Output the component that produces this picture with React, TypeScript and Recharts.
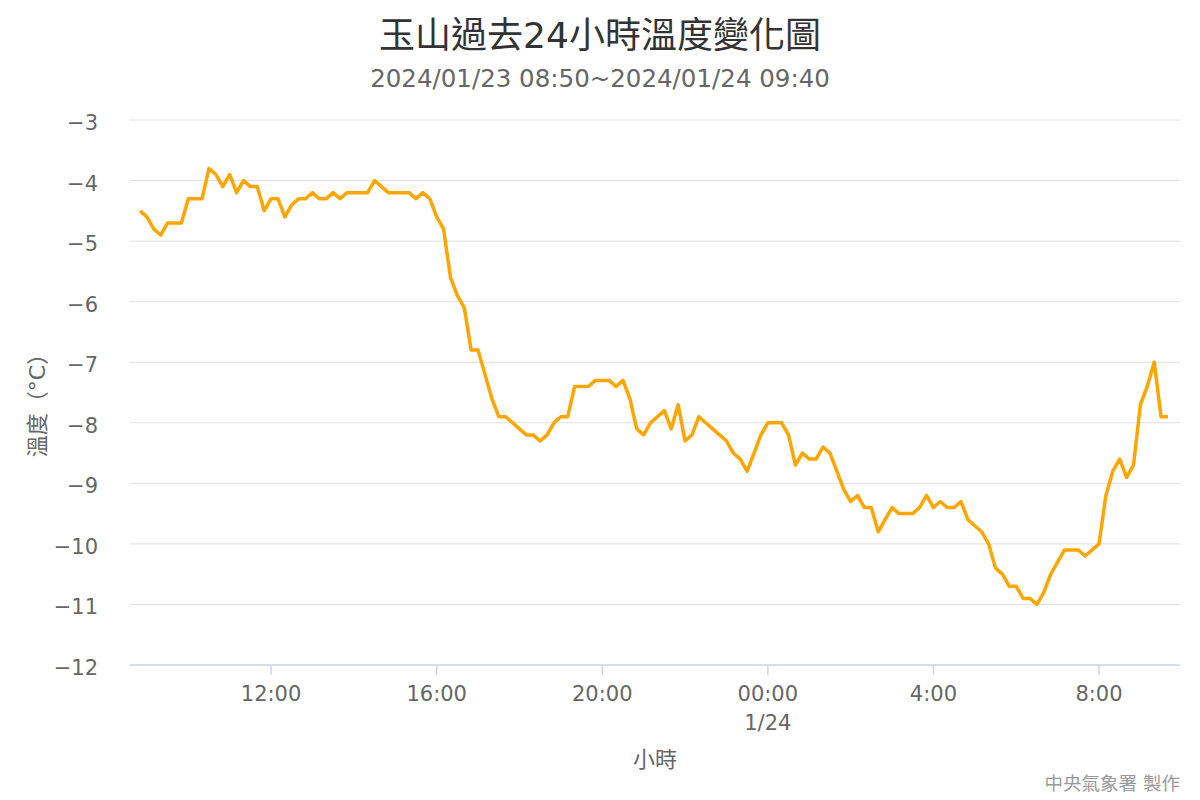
import React from "react";
import { LineChart, Line, XAxis, YAxis, CartesianGrid } from "recharts";

// 玉山 10-minute readings, 2024/01/23 08:50 → 2024/01/24 09:40
const START_MINUTE = 8 * 60 + 50;
const STEP_MINUTES = 10;

const temps = [
  -4.5, -4.6, -4.8, -4.9, -4.7, -4.7, -4.7, -4.3, -4.3, -4.3,
  -3.8, -3.9, -4.1, -3.9, -4.2, -4.0, -4.1, -4.1, -4.5, -4.3,
  -4.3, -4.6, -4.4, -4.3, -4.3, -4.2, -4.3, -4.3, -4.2, -4.3,
  -4.2, -4.2, -4.2, -4.2, -4.0, -4.1, -4.2, -4.2, -4.2, -4.2,
  -4.3, -4.2, -4.3, -4.6, -4.8, -5.6, -5.9, -6.1, -6.8, -6.8,
  -7.2, -7.6, -7.9, -7.9, -8.0, -8.1, -8.2, -8.2, -8.3, -8.2,
  -8.0, -7.9, -7.9, -7.4, -7.4, -7.4, -7.3, -7.3, -7.3, -7.4,
  -7.3, -7.6, -8.1, -8.2, -8.0, -7.9, -7.8, -8.1, -7.7, -8.3,
  -8.2, -7.9, -8.0, -8.1, -8.2, -8.3, -8.5, -8.6, -8.8, -8.5,
  -8.2, -8.0, -8.0, -8.0, -8.2, -8.7, -8.5, -8.6, -8.6, -8.4,
  -8.5, -8.8, -9.1, -9.3, -9.2, -9.4, -9.4, -9.8, -9.6, -9.4,
  -9.5, -9.5, -9.5, -9.4, -9.2, -9.4, -9.3, -9.4, -9.4, -9.3,
  -9.6, -9.7, -9.8, -10.0, -10.4, -10.5, -10.7, -10.7, -10.9, -10.9,
  -11.0, -10.8, -10.5, -10.3, -10.1, -10.1, -10.1, -10.2, -10.1, -10.0,
  -9.2, -8.8, -8.6, -8.9, -8.7, -7.7, -7.4, -7.0, -7.9, -7.9,
];

// x ticks in minutes since 1/23 00:00
const xTicks = [720, 960, 1200, 1440, 1680, 1920];
const xTickLabels = ["12:00", "16:00", "20:00", "00:00", "4:00", "8:00"];
const xTickSubLabels = ["", "", "", "1/24", "", ""];
const yTicks = [-3, -4, -5, -6, -7, -8, -9, -10, -11, -12];

const data = temps.map((t, i) => ({
  minute: START_MINUTE + i * STEP_MINUTES,
  temp: t,
}));

const FONT = "'DejaVu Sans', 'Noto Sans CJK TC', sans-serif";
const AXIS_COLOR = "#ccd6eb";
const LABEL_COLOR = "#666666";

const XTick = (props: any) => {
  const { x, y, payload } = props;
  const idx = xTicks.indexOf(payload.value);
  return (
    <g>
      <text x={x} y={y} dy={26} textAnchor="middle" fill={LABEL_COLOR} fontSize={21} fontFamily={FONT}>
        {xTickLabels[idx]}
      </text>
      {xTickSubLabels[idx] && (
        <text x={x} y={y} dy={55} textAnchor="middle" fill={LABEL_COLOR} fontSize={21} fontFamily={FONT}>
          {xTickSubLabels[idx]}
        </text>
      )}
    </g>
  );
};

const YTick = (props: any) => {
  const { x, y, payload } = props;
  const v = payload.value as number;
  const label = v < 0 ? "\u2212" + Math.abs(v) : String(v);
  return (
    <text x={x} y={y} dy={10} textAnchor="end" fill={LABEL_COLOR} fontSize={21} fontFamily={FONT}>
      {label}
    </text>
  );
};

export default function App() {
  return (
    <div style={{ position: "absolute", left: 0, top: 0, width: 1200, height: 800, background: "#fff" }}>
      <LineChart
        width={1200}
        height={800}
        data={data}
        margin={{ top: 120, right: 20, bottom: 105, left: 0 }}
      >
        <CartesianGrid vertical={false} stroke="#e0e0e0" />
        <XAxis
          dataKey="minute"
          type="number"
          domain={[515.5, 2037.4]}
          ticks={xTicks}
          allowDataOverflow
          height={30}
          tickSize={10}
          tickMargin={0}
          axisLine={{ stroke: AXIS_COLOR, strokeWidth: 1.5 }}
          tickLine={{ stroke: AXIS_COLOR, strokeWidth: 1.5 }}
          tick={<XTick />}
        />
        <YAxis
          type="number"
          domain={[-12, -3]}
          ticks={yTicks}
          width={130}
          axisLine={false}
          tickLine={false}
          tickSize={6}
          tickMargin={26}
          tick={<YTick />}
        />
        <Line
          dataKey="temp"
          type="linear"
          stroke="#ffa500"
          strokeWidth={3.5}
          strokeLinejoin="round"
          dot={false}
          isAnimationActive={false}
        />
      </LineChart>
      <svg
        width={1200}
        height={800}
        style={{ position: "absolute", left: 0, top: 0, pointerEvents: "none" }}
        fontFamily={FONT}
      >
        <text x={600} y={48} textAnchor="middle" fontSize={36} fill="#333333">
          玉山過去24小時溫度變化圖
        </text>
        <text x={600} y={87} textAnchor="middle" fontSize={24.5} fill={LABEL_COLOR}>
          2024/01/23 08:50~2024/01/24 09:40
        </text>
        <text transform="translate(45,400) rotate(-90)" textAnchor="middle" fontSize={22} fill={LABEL_COLOR}>
          溫度（°C）
        </text>
        <text x={655} y={767} textAnchor="middle" fontSize={22} fill={LABEL_COLOR}>
          小時
        </text>
        <text x={1180} y={790} textAnchor="end" fontSize={18.5} fill="#999999">
          中央氣象署 製作
        </text>
      </svg>
    </div>
  );
}
